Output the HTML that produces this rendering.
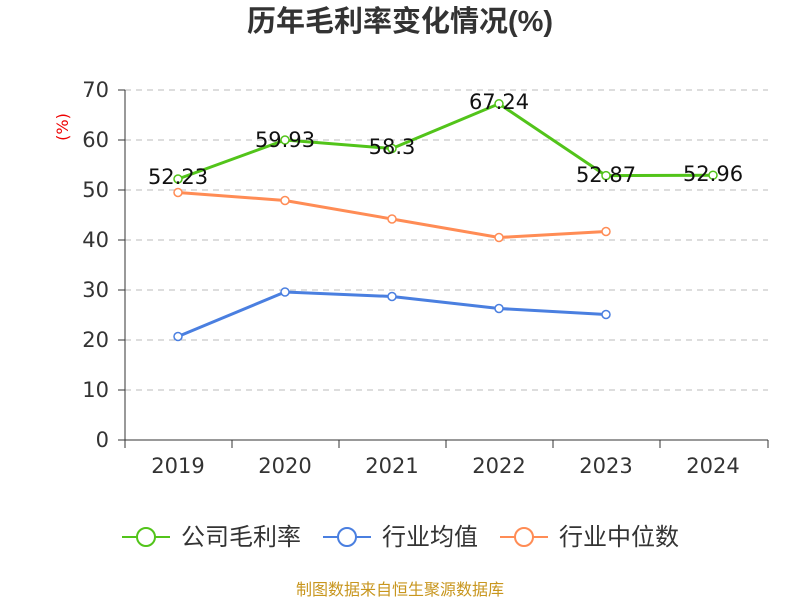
<!DOCTYPE html>
<html><head><meta charset="utf-8"><style>
body{margin:0;background:#fff;}
svg text{font-family:"DejaVu Sans","Noto Sans CJK SC",sans-serif;}
</style></head><body>
<svg width="800" height="600" xmlns="http://www.w3.org/2000/svg">
<text x="400" y="31" text-anchor="middle" font-size="29" font-weight="bold" fill="#333" style="font-family:'Liberation Sans','Noto Sans CJK SC',sans-serif">历年毛利率变化情况(%)</text>
<text x="68" y="127" font-size="16" fill="#e00" text-anchor="middle" transform="rotate(-90 68 127)">(%)</text>
<g stroke="#bbb" stroke-dasharray="6,5" stroke-width="1">
<line x1="125" x2="768" y1="90" y2="90"/><line x1="125" x2="768" y1="140" y2="140"/>
<line x1="125" x2="768" y1="190" y2="190"/><line x1="125" x2="768" y1="240" y2="240"/>
<line x1="125" x2="768" y1="290" y2="290"/><line x1="125" x2="768" y1="340" y2="340"/>
<line x1="125" x2="768" y1="390" y2="390"/>
</g>
<g stroke="#333" stroke-width="1">
<line x1="125" x2="125" y1="90" y2="440"/>
<line x1="125" x2="768" y1="440" y2="440"/>
<line x1="118" x2="125" y1="90" y2="90"/><line x1="118" x2="125" y1="140" y2="140"/>
<line x1="118" x2="125" y1="190" y2="190"/><line x1="118" x2="125" y1="240" y2="240"/>
<line x1="118" x2="125" y1="290" y2="290"/><line x1="118" x2="125" y1="340" y2="340"/>
<line x1="118" x2="125" y1="390" y2="390"/><line x1="118" x2="125" y1="440" y2="440"/>
<line x1="125" x2="125" y1="440" y2="448"/><line x1="232" x2="232" y1="440" y2="448"/>
<line x1="339" x2="339" y1="440" y2="448"/><line x1="446" x2="446" y1="440" y2="448"/>
<line x1="553" x2="553" y1="440" y2="448"/><line x1="660" x2="660" y1="440" y2="448"/>
<line x1="768" x2="768" y1="440" y2="448"/>
</g>
<g font-size="21" fill="#333" text-anchor="end">
<text x="109" y="97">70</text><text x="109" y="147">60</text><text x="109" y="197">50</text>
<text x="109" y="247">40</text><text x="109" y="297">30</text><text x="109" y="347">20</text>
<text x="109" y="397">10</text><text x="109" y="447">0</text>
</g>
<g font-size="21" fill="#333" text-anchor="middle">
<text x="178" y="473">2019</text><text x="285" y="473">2020</text><text x="392" y="473">2021</text>
<text x="499" y="473">2022</text><text x="606" y="473">2023</text><text x="713" y="473">2024</text>
</g>
<g fill="none" stroke-width="3">
<polyline stroke="#ff8c55" points="178,192.5 285,200.5 392,219 499,237.5 606,231.5"/>
<polyline stroke="#4a7fe0" points="178,336.5 285,292 392,296.5 499,308.5 606,314.5"/>
<polyline stroke="#52c41a" points="178,179 285,140 392,148.5 499,103.8 606,175.6 713,175.2"/>
</g>
<g fill="#fff" stroke-width="1.5">
<g stroke="#ff8c55"><circle cx="178" cy="192.5" r="4"/><circle cx="285" cy="200.5" r="4"/><circle cx="392" cy="219" r="4"/><circle cx="499" cy="237.5" r="4"/><circle cx="606" cy="231.5" r="4"/></g>
<g stroke="#4a7fe0"><circle cx="178" cy="336.5" r="4"/><circle cx="285" cy="292" r="4"/><circle cx="392" cy="296.5" r="4"/><circle cx="499" cy="308.5" r="4"/><circle cx="606" cy="314.5" r="4"/></g>
<g stroke="#52c41a"><circle cx="178" cy="179" r="4"/><circle cx="285" cy="140" r="4"/><circle cx="392" cy="148.5" r="4"/><circle cx="499" cy="103.8" r="4"/><circle cx="606" cy="175.6" r="4"/><circle cx="713" cy="175.2" r="4"/></g>
</g>
<g font-size="21" fill="#111" text-anchor="middle">
<text x="178" y="184">52.23</text><text x="285" y="147">59.93</text><text x="392" y="154">58.3</text>
<text x="499" y="109">67.24</text><text x="606" y="182">52.87</text><text x="713" y="181">52.96</text>
</g>
<g stroke-width="2" fill="#fff">
<line x1="122" x2="170" y1="537" y2="537" stroke="#52c41a"/><circle cx="146" cy="537" r="9" stroke="#52c41a"/>
<line x1="323" x2="371" y1="537" y2="537" stroke="#4a7fe0"/><circle cx="347" cy="537" r="9" stroke="#4a7fe0"/>
<line x1="500" x2="548" y1="537" y2="537" stroke="#ff8c55"/><circle cx="524" cy="537" r="9" stroke="#ff8c55"/>
</g>
<g font-size="24" fill="#333" style="font-family:'Noto Sans CJK SC',sans-serif">
<text x="181" y="545">公司毛利率</text><text x="382" y="545">行业均值</text><text x="559" y="545">行业中位数</text>
</g>
<text x="400" y="595" text-anchor="middle" font-size="16" fill="#c8961e" style="font-family:'Noto Sans CJK SC',sans-serif">制图数据来自恒生聚源数据库</text>
</svg>
</body></html>
